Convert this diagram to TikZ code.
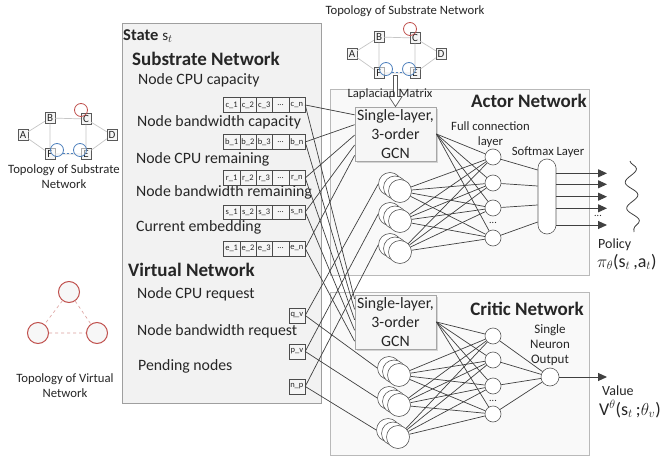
\documentclass[tikz,border=0pt]{standalone}
\usepackage{fontspec}
\setmainfont{Carlito}
\usetikzlibrary{arrows.meta,decorations.pathmorphing,shadows,calc}
\definecolor{lc}{HTML}{404040}
\definecolor{redc}{HTML}{C0504D}
\definecolor{bluec}{HTML}{4F81BD}
\newcommand\fsz[2]{\fontsize{#1}{#2}\selectfont}
\tikzset{
 txt/.style={font=\fsz{15.8}{18}, inner sep=0pt, anchor=base west, text=black!85},
 hdr/.style={font=\bfseries\fsz{19}{22}, inner sep=0pt, anchor=base west, text=black!85},
 lbl/.style={font=\fsz{12.7}{15}, inner sep=0pt, anchor=base, text=black!85},
 panel/.style={draw=gray!55, fill=gray!5, line width=0.8pt, anchor=north west},
 statebox/.style={draw=gray!75, fill=gray!10, line width=0.8pt, anchor=north west},
 gcn/.style={draw=gray!70, fill=gray!7, line width=0.8pt, align=center, font=\fsz{15.8}{19}, text=black!85,
   minimum width=81pt, minimum height=54pt, inner sep=0pt,
   drop shadow={shadow xshift=2pt, shadow yshift=-2pt, opacity=0.3}},
 cell/.style={draw=gray!60!black, fill=gray!8, minimum width=16.3pt, minimum height=14.5pt, inner sep=0pt,
   anchor=north west, font=\fsz{8.5}{9}, text=black!85},
 stk/.style={circle, draw=gray!70!black, fill=white, minimum size=23pt, inner sep=0pt, line width=0.6pt},
 neu/.style={circle, draw=gray!70!black, fill=white, minimum size=16pt, inner sep=0pt, line width=0.6pt},
 conn/.style={draw=lc, line width=0.7pt},
 arr/.style={draw=lc, line width=1pt, -{Triangle[length=9pt,width=8pt]}},
 tsq/.style={draw=gray!70!black, fill=gray!8, minimum width=10pt, minimum height=11pt, inner sep=0pt, font=\fsz{11}{12}, text=black!85},
 tedge/.style={draw=gray!45, line width=0.7pt},
 bcirc/.style={circle, draw=bluec, fill=white, fill opacity=0.5, minimum size=13pt, inner sep=0pt, line width=0.8pt},
 vc/.style={circle, draw=redc, line width=1pt, fill=gray!6, minimum size=21pt, inner sep=0pt},
 vedge/.style={draw=redc!55, dashed, line width=0.6pt},
 dotsl/.style={font=\fsz{10}{10}, inner sep=0pt, text=black!85},
}
\newcommand\topo[3]{%
\begin{scope}[shift={(#2,#3)}]
 \node[tsq] (#1A) at (23,135) {A};
 \node[tsq] (#1B) at (50,118) {B};
 \node[tsq] (#1C) at (86,119) {C};
 \node[tsq] (#1D) at (112,135) {D};
 \node[tsq] (#1F) at (50,154) {F};
 \node[tsq] (#1E) at (86,154) {E};
 \draw[tedge] (#1A)--(#1B) (#1A)--(#1F) (#1B)--(#1C) (#1B)--(#1F) (#1C)--(#1D) (#1C)--(#1E) (#1D)--(#1E) (#1F)--(#1E);
 \node[circle, draw=redc, minimum size=13pt, inner sep=0pt, line width=0.8pt] (#1r) at (81,110) {};
 \node[bcirc] (#1ba) at (57,150) {};
 \node[bcirc] (#1bb) at (80,150) {};
 \draw[draw=bluec, line width=0.9pt, dash pattern=on 2.5pt off 1.5pt] (#1ba.-30) -- (#1bb.210);
\end{scope}}
\newcommand\mystack[3]{%
 \node[stk] (#1b) at (#2-10,#3-7) {};
 \node[stk] (#1m) at (#2-5,#3-3.5) {};
 \node[stk] (#1) at (#2,#3) {};}
\begin{document}
\begin{tikzpicture}[x=1pt,y=-1pt]
\fill[white] (0,0) rectangle (663,457);
\useasboundingbox (0,0) rectangle (663,457);

% panels
\node[statebox, minimum width=199pt, minimum height=380pt] (state) at (122,23) {};
\node[panel, minimum width=259pt, minimum height=186pt] (actor) at (330,89) {};
\node[panel, minimum width=259pt, minimum height=163pt] (critic) at (330,292) {};

% state texts
\node[txt] (tstate) at (123,40.5) {\fsz{16.5}{18}\textbf{State}\hspace{4pt}\fsz{15}{18}s$_t$};
\node[hdr] (tsub) at (132,66) {Substrate Network};
\node[txt] (t1) at (138,84.3) {Node CPU capacity};
\node[txt] (t2) at (137,126.7) {Node bandwidth capacity};
\node[txt] (t3) at (136,164) {Node CPU remaining};
\node[txt] (t4) at (136,196.7) {Node bandwidth remaining};
\node[txt] (t5) at (136,231.7) {Current embedding};
\node[hdr] (tvir) at (128,276.7) {Virtual Network};
\node[txt] (t6) at (137,298.3) {Node CPU request};
\node[txt] (t7) at (137,335.7) {Node bandwidth request};
\node[txt] (t8) at (138,370.7) {Pending nodes};

% arrays
\foreach \rw/\ty in {c/97.5, b/134.5, r/170.5, s/204.5, e/241}{
  \node[cell] (\rw1) at (223.3,\ty) {\rw\_1};
  \node[cell] (\rw2) at (239.6,\ty) {\rw\_2};
  \node[cell] (\rw3) at (255.9,\ty) {\rw\_3};
  \node[cell] (\rw4) at (272.2,\ty) {...};
  \node[cell] (\rw5) at (288.5,\ty) {\rw\_n};
}
\node[cell] (qv) at (288.5,308) {q\_v};
\node[cell] (pv) at (288.5,344) {p\_v};
\node[cell] (np) at (288.5,379) {n\_p};

% topologies
\topo{L}{0}{0}
\node[lbl] (tl1) at (64,173.3) {Topology of Substrate};
\node[lbl] (tl2) at (64,188.3) {Network};
\topo{T}{329}{-81}
\node[lbl] (tt1) at (405,15) {Topology of Substrate Network};

\node[vc] (v1) at (69,292) {};
\node[vc] (v2) at (38,333) {};
\node[vc] (v3) at (97,333) {};
\draw[vedge] (v1)--(v2) (v1)--(v3) (v2)--(v3);
\node[lbl] (tv1) at (65,382) {Topology of Virtual};
\node[lbl] (tv2) at (65,397) {Network};

% GCNs
\node[gcn] (ga) at (395.5,134) {Single-layer,\\3-order\\GCN};
\node[gcn] (gc) at (395.5,322) {Single-layer,\\3-order\\GCN};
\draw[draw=gray!70!black, fill=white, line width=0.7pt] (ga.north) -- ++(-6.5,-10) -- ++(4.5,0) -- ++(0,-21) -- ++(4,0) -- ++(0,21) -- ++(4.5,0) -- cycle;
\node[lbl] (tlap) at (390,97.7) {Laplacian Matrix};

% stacks
\mystack{as1}{400}{191}
\mystack{as2}{400}{221}
\mystack{as3}{400}{252}
\mystack{cs1}{399}{375}
\mystack{cs2}{399}{405}
\mystack{cs3}{398}{437}

% hidden
\foreach \i/\yy in {1/157,2/183,3/208,4/238} \node[neu] (ah\i) at (493,\yy) {};
\foreach \i/\yy in {1/336,2/360,3/386,4/414} \node[neu] (ch\i) at (493,\yy) {};
\node[dotsl] (adots) at (493,223) {...};
\node[dotsl] (cdots) at (493,401) {...};

\node[draw=gray!70!black, fill=white, rounded corners=9pt, minimum width=18pt, minimum height=75pt, inner sep=0pt, line width=0.6pt] (sm) at (547,196.5) {};
\node[neu, minimum size=18pt] (co) at (550,377) {};

% labels
\node[hdr, anchor=base east] (tact) at (587,108) {Actor Network};
\node[hdr, anchor=base east] (tcri) at (584,315) {Critic Network};
\node[lbl] (tfc1) at (490.5,130.7) {Full connection};
\node[lbl] (tfc2) at (490.5,146) {layer};
\node[lbl] (tsm) at (548,155.7) {Softmax Layer};
\node[lbl, font=\fsz{13}{15}] (tso1) at (550,333) {Single};
\node[lbl, font=\fsz{13}{15}] (tso2) at (550,348) {Neuron};
\node[lbl, font=\fsz{13}{15}] (tso3) at (550,363) {Output};
\node[txt, font=\fsz{14}{16}] (tpol) at (598,248) {Policy};
\node[txt, font=\fsz{18}{20}] (tpi) at (597,267) {$\pi_\theta$(s$_t$\,,a$_t$)};
\node[txt, font=\fsz{14}{16}] (tval) at (602,395) {Value};
\node[txt, font=\fsz{18}{20}] (tV) at (599,415) {V$^\theta$(s$_t$\,;$\theta_v$)};

% connections from arrays
\foreach \rw/\fa/\fc in {c/0.15/0.08, b/0.33/0.27, r/0.52/0.46, s/0.70/0.65, e/0.89/0.85} {
  \draw[conn] (\rw5.east) -- ($(ga.north west)!\fa!(ga.south west)$);
  \draw[conn] (\rw5.east) -- ($(gc.north west)!\fc!(gc.south west)$);
}
\foreach \vv/\kk in {qv/1, pv/2, np/3} {
  \draw[conn] (\vv.east) -- (as\kk b.west);
  \draw[conn] (\vv.east) -- (cs\kk b.west);
}

% fully connected
\foreach \s in {ga.east,as1,as2,as3} \foreach \h in {1,...,4} \draw[conn] (\s) -- (ah\h);
\foreach \s in {gc.east,cs1,cs2,cs3} \foreach \h in {1,...,4} \draw[conn] (\s) -- (ch\h);
\draw[conn] (ah1) -- ($(sm.west)+(0,-26.5)$);
\draw[conn] (ah2) -- ($(sm.west)+(0,-10.5)$);
\draw[conn] (ah3) -- ($(sm.west)+(0,8.5)$);
\draw[conn] (ah4) -- ($(sm.west)+(0,25.5)$);
\foreach \h in {1,...,4} \draw[conn] (ch\h) -- (co);

% outputs
\foreach \i/\yy in {1/173.3,2/184.3,3/196.7,4/208.3,5/225} {
  \coordinate (pt\i) at (607,\yy);
  \draw[arr] (sm.east |- pt\i) -- (pt\i);
}
\node[dotsl] (pdots) at (598,216) {...};
\coordinate (vt) at (607,377);
\draw[arr] (co) -- (vt);
\coordinate (w1) at (630,161);
\coordinate (w2) at (634,232);
\draw[lc, line width=0.8pt, decorate, decoration={snake, amplitude=6pt, segment length=26pt}] (w1) -- (w2);
\end{tikzpicture}
\end{document}
